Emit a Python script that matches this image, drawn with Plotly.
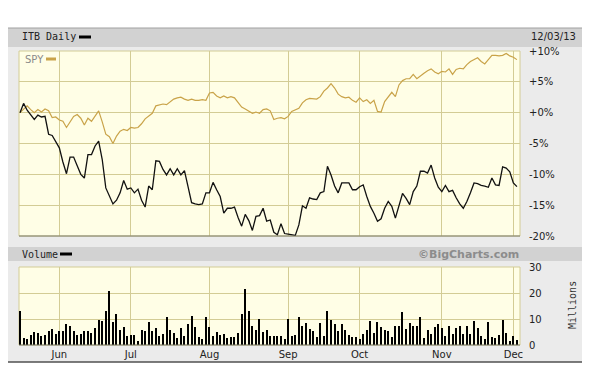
import pandas as pd
import plotly.graph_objects as go

# ---------------- data ----------------
holidays = ["2013-05-27", "2013-07-04", "2013-09-02", "2013-11-28"]
dates = [d for d in pd.bdate_range("2013-05-16", "2013-12-03")
         if d.strftime("%Y-%m-%d") not in holidays]

itb = [0.0, 1.5, 0.4, -0.4, -1.1, -0.4, -0.7, -0.6, -3.5, -3.7,
       -4.6, -5.7, -8.0, -9.9, -7.2, -7.2, -8.6, -10.0, -10.6, -6.8,
       -6.8, -5.4, -4.6, -7.6, -12.2, -13.6, -14.8, -14.2, -13.0, -11.0,
       -12.4, -12.2, -13.0, -12.4, -14.2, -15.3, -11.9, -12.5, -7.8, -7.9,
       -9.2, -10.1, -9.1, -10.1, -9.1, -10.1, -9.4, -12.0, -14.6, -14.8,
       -14.9, -14.8, -13.0, -13.0, -11.3, -12.5, -13.6, -16.3, -15.5, -15.5,
       -15.3, -17.0, -18.4, -16.5, -17.5, -19.1, -16.8, -16.7, -15.5, -17.6,
       -17.4, -19.4, -19.8, -18.0, -19.6, -19.7, -19.8, -19.9, -18.2, -15.1,
       -15.5, -13.8, -14.0, -14.1, -13.0, -12.8, -8.7, -10.1, -11.9, -13.0,
       -11.4, -11.4, -11.4, -12.5, -12.5, -12.0, -11.7, -13.6, -15.2, -16.3,
       -17.6, -17.2, -15.5, -14.4, -15.2, -17.1, -15.0, -13.1, -13.9, -14.9,
       -12.8, -11.9, -9.5, -9.5, -9.8, -8.5, -10.6, -12.1, -12.8, -11.8,
       -12.8, -12.6, -13.8, -14.8, -15.5, -14.4, -13.0, -11.4, -11.5, -11.8,
       -11.9, -12.1, -10.6, -11.7, -11.8, -8.8, -9.0, -9.6, -11.4, -12.0]

spy = [0.0, 0.6, 1.1, 0.5, 0.0, 0.5, 0.1, 0.6, 0.3, -0.8,
       -0.7, -1.2, -1.4, -2.4, -1.5, -0.6, -0.3, -0.9, -2.0, -0.9,
       -1.4, -0.6, 0.3, -1.5, -3.5, -3.9, -5.0, -3.8, -3.0, -2.7,
       -2.9, -2.4, -2.5, -2.4, -1.8, -1.0, -0.6, -0.1, 1.1, 1.3,
       1.4, 1.3, 1.8, 2.2, 2.4, 2.5, 2.2, 2.0, 2.2, 2.0,
       2.0, 2.1, 2.0, 3.2, 3.3, 2.7, 2.4, 2.7, 2.4, 2.6,
       2.4, 1.6, 0.9, 0.6, 0.2, -0.1, 0.1, -0.1, 0.5, 0.6,
       0.3, -1.1, -0.9, -0.8, -1.0, -0.6, 0.2, 0.4, 0.7, 1.6,
       2.1, 2.3, 2.2, 2.2, 2.6, 3.5, 4.0, 4.7, 4.0, 3.0,
       2.6, 2.4, 2.5, 2.0, 1.7, 2.4, 1.8, 2.1, 1.5, 2.0,
       0.2, 0.1, 1.8, 2.6, 3.3, 2.6, 4.5, 5.2, 5.5, 5.5,
       6.2, 5.5, 6.0, 6.4, 6.8, 7.1, 6.6, 6.3, 6.7, 6.6,
       7.1, 6.2, 7.0, 7.2, 7.1, 7.8, 8.3, 8.6, 8.9, 8.3,
       7.9, 8.6, 9.3, 9.3, 9.2, 9.3, 9.6, 9.2, 9.0, 8.6]

volume = [13.2, 2.7, 2.5, 4.0, 5.0, 4.8, 3.5, 4.0, 5.4, 6.0,
          4.4, 5.4, 5.3, 8.1, 7.5, 5.4, 3.8, 4.4, 5.4, 5.4,
          4.7, 6.6, 9.8, 9.2, 13.2, 20.6, 8.7, 11.8, 5.6, 7.0,
          3.4, 4.0, 4.0, 1.4, 5.6, 5.3, 8.7, 5.3, 6.6, 3.5,
          4.1, 10.9, 5.6, 4.5, 2.7, 6.6, 3.5, 8.1, 11.3, 7.0,
          3.1, 2.5, 10.9, 7.0, 3.4, 5.0, 4.0, 4.4, 2.7, 3.1,
          3.0, 4.7, 11.8, 21.7, 13.2, 7.4, 5.6, 10.0, 5.0, 5.8,
          3.4, 3.4, 3.4, 3.5, 2.5, 10.0, 3.5, 4.0, 10.9, 7.4,
          8.3, 6.3, 5.3, 3.1, 8.3, 3.5, 13.2, 9.6, 7.9, 5.3,
          8.1, 5.6, 4.0, 3.0, 3.1, 2.2, 4.1, 5.6, 9.3, 4.8,
          8.9, 7.0, 5.7, 5.3, 3.1, 7.4, 7.4, 12.8, 6.3, 8.3,
          7.5, 7.5, 10.9, 2.7, 5.7, 4.4, 6.9, 7.9, 6.6, 3.5,
          7.4, 4.4, 6.6, 7.4, 4.4, 7.4, 4.4, 9.4, 6.6, 3.5,
          2.5, 8.9, 3.1, 2.7, 4.0, 9.6, 4.8, 1.7, 3.5, 1.9]

price_ticks = [10, 5, 0, -5, -10, -15, -20]
price_tick_text = ["+10%", "+5%", "+0%", "-5%", "-10%", "-15%", "-20%"]
volume_ticks = [0, 10, 20, 30]
end_label = "12/03/13"

# ---------------- layout helpers ----------------
# page coordinates are measured on the 590x390 screenshot; the page body
# has an 8px margin, so the figure itself starts at (8, 8).
OFF = 8
W, H = 590 - OFF, 390 - OFF
L, R, T, B = 19 - OFF, 520 - OFF, 51 - OFF, 345 - OFF


def px(x):
    return (x - OFF - L) / (R - L)


def py(y):
    return (B - (y - OFF)) / (B - T)


idx = list(range(len(dates)))
date_txt = [d.strftime("%m/%d/%y") for d in dates]
month_pos, month_lab = [], []
for i in range(1, len(dates)):
    if dates[i].month != dates[i - 1].month:
        month_pos.append(i)
        month_lab.append(dates[i].strftime("%b"))

GRID = "#d3cc95"
PANEL = "#fffee6"
FRAME = "#ebebeb"
BAR = "#d2d2d2"
GOLD = "#c9a349"

fig = go.Figure()
fig.add_trace(go.Scatter(x=idx, y=spy, mode="lines", name="SPY",
                         customdata=date_txt,
                         line=dict(color=GOLD, width=1.2),
                         xaxis="x", yaxis="y"))
fig.add_trace(go.Scatter(x=idx, y=itb, mode="lines", name="ITB Daily",
                         customdata=date_txt,
                         line=dict(color="#111111", width=1.3),
                         xaxis="x", yaxis="y"))
fig.add_trace(go.Bar(x=idx, y=volume, name="Volume", width=0.3,
                     marker=dict(color="#000000", line=dict(width=0)),
                     xaxis="x", yaxis="y2"))

price_dom = [py(236), 1.0]
vol_dom = [0.0, py(267)]

shapes = [
    # outer frame
    dict(type="rect", xref="paper", yref="paper", x0=px(6), x1=px(583),
         y0=py(362), y1=py(28), fillcolor=FRAME, line=dict(width=0), layer="below"),
    # header bars
    dict(type="rect", xref="paper", yref="paper", x0=px(6), x1=px(583),
         y0=py(47), y1=py(28), fillcolor=BAR, line=dict(width=0), layer="below"),
    dict(type="rect", xref="paper", yref="paper", x0=px(6), x1=px(583),
         y0=py(261), y1=py(247), fillcolor=BAR, line=dict(width=0), layer="below"),
    # panels
    dict(type="rect", xref="paper", yref="paper", x0=0, x1=1,
         y0=price_dom[0], y1=price_dom[1], fillcolor=PANEL,
         line=dict(color=GRID, width=1), layer="below"),
    dict(type="rect", xref="paper", yref="paper", x0=0, x1=1,
         y0=vol_dom[0], y1=vol_dom[1], fillcolor=PANEL,
         line=dict(color=GRID, width=1), layer="below"),
    # frame borders
    dict(type="line", xref="paper", yref="paper", x0=px(6), x1=px(583),
         y0=py(28), y1=py(28), line=dict(color="#a0a0a0", width=1)),
    dict(type="line", xref="paper", yref="paper", x0=px(583), x1=px(583),
         y0=py(28), y1=py(362), line=dict(color="#505050", width=1.5)),
    dict(type="line", xref="paper", yref="paper", x0=px(6), x1=px(583),
         y0=py(362), y1=py(362), line=dict(color="#505050", width=1.5)),
    # panel bottom lines
    dict(type="line", xref="paper", yref="paper", x0=0, x1=1,
         y0=price_dom[0], y1=price_dom[0], line=dict(color="#7a7a6a", width=1)),
    dict(type="line", xref="paper", yref="paper", x0=0, x1=1,
         y0=0, y1=0, line=dict(color="#7a7a6a", width=1)),
    # legend swatches
    dict(type="line", xref="paper", yref="paper", x0=px(79), x1=px(91),
         y0=py(37), y1=py(37), line=dict(color="#000000", width=3)),
    dict(type="line", xref="paper", yref="paper", x0=px(46), x1=px(56),
         y0=py(59), y1=py(59), line=dict(color=GOLD, width=3)),
    dict(type="line", xref="paper", yref="paper", x0=px(60), x1=px(72),
         y0=py(254), y1=py(254), line=dict(color="#000000", width=3)),
]

mono = "DejaVu Sans Mono"
sans = "DejaVu Sans"
annotations = [
    dict(text="ITB Daily", x=px(20), y=py(37), xref="paper", yref="paper",
         xanchor="left", yanchor="middle", showarrow=False,
         font=dict(family=mono, size=10, color="#222222")),
    dict(text=end_label, x=px(529), y=py(37), xref="paper", yref="paper",
         xanchor="left", yanchor="middle", showarrow=False,
         font=dict(family=sans, size=10, color="#222222")),
    dict(text="SPY", x=px(23), y=py(59), xref="paper", yref="paper",
         xanchor="left", yanchor="middle", showarrow=False,
         font=dict(family=sans, size=10, color="#8a8a8a")),
    dict(text="Volume", x=px(20), y=py(254), xref="paper", yref="paper",
         xanchor="left", yanchor="middle", showarrow=False,
         font=dict(family=mono, size=10, color="#222222")),
    dict(text="©BigCharts.com", x=px(521), y=py(254), xref="paper", yref="paper",
         xanchor="right", yanchor="middle", showarrow=False,
         font=dict(family=sans, size=11, color="#8c8c8c", weight="bold")),
    dict(text="Millions", x=px(572), y=py(305), xref="paper", yref="paper",
         xanchor="center", yanchor="middle", showarrow=False, textangle=-90,
         font=dict(family=mono, size=10, color="#333333")),
]

fig.update_layout(
    width=W, height=H,
    margin=dict(l=L, r=W - R, t=T, b=H - B, pad=0),
    paper_bgcolor="#ffffff",
    plot_bgcolor="rgba(0,0,0,0)",
    showlegend=False,
    bargap=0,
    shapes=shapes,
    annotations=annotations,
    xaxis=dict(domain=[0, 1], anchor="y2", range=[-0.28, 139.86],
               tickmode="array", tickvals=month_pos, ticktext=month_lab,
               showgrid=True, gridcolor=GRID, gridwidth=1, zeroline=False,
               ticks="", ticklabelstandoff=2, showline=False,
               tickfont=dict(family=sans, size=10, color="#222222")),
    yaxis=dict(domain=price_dom, anchor="x", side="right", range=[-20, 10],
               tickmode="array", tickvals=price_ticks, ticktext=price_tick_text,
               showgrid=True, gridcolor=GRID, gridwidth=1, zeroline=False,
               ticks="", ticklabelstandoff=8, showline=False,
               tickfont=dict(family=sans, size=10, color="#222222")),
    yaxis2=dict(domain=vol_dom, anchor="x", side="right", range=[0, 30],
                tickmode="array", tickvals=volume_ticks,
                showgrid=True, gridcolor=GRID, gridwidth=1, zeroline=False,
                ticks="", ticklabelstandoff=8, showline=False,
                tickfont=dict(family=sans, size=10, color="#222222")),
)

fig.write_html("out.html")
